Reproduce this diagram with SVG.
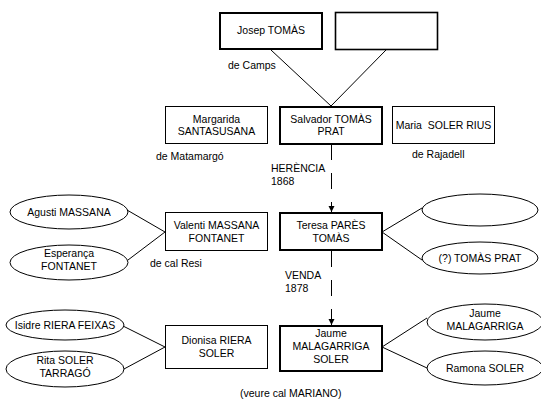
<svg xmlns="http://www.w3.org/2000/svg" width="541" height="400" viewBox="0 0 541 400">
<style>
text{font-family:"Liberation Sans",Arial,sans-serif;font-size:10.5px;fill:#000}
.c{text-anchor:middle}
.thin{fill:#fff;stroke:#000;stroke-width:1}
.thick{fill:#fff;stroke:#000;stroke-width:2}
.mid{fill:#fff;stroke:#000;stroke-width:1.6}
.ell{fill:#fff;stroke:#000;stroke-width:1}
.ln{stroke:#000;stroke-width:1;fill:none}
.dash{stroke:#000;stroke-width:1;fill:none;stroke-dasharray:16 13}
</style>
<defs>
<marker id="arr" markerUnits="userSpaceOnUse" markerWidth="7" markerHeight="7" refX="6" refY="3.5" orient="auto">
<path d="M0,0.5 L6,3.5 L0,6.5 z" fill="#000"/>
</marker>
</defs>
<rect width="541" height="400" fill="#fff"/>
<g id="connectors">
<line class="ln" x1="271" y1="50" x2="331" y2="106"/>
<line class="ln" x1="386" y1="50" x2="331" y2="106"/>
<line class="dash" x1="331.5" y1="144" x2="331.5" y2="212" marker-end="url(#arr)"/>
<line class="dash" x1="331.5" y1="251" x2="331.5" y2="325" marker-end="url(#arr)"/>
<line class="ln" x1="127" y1="210" x2="165" y2="232"/>
<line class="ln" x1="128" y1="260" x2="165" y2="232"/>
<line class="ln" x1="382" y1="232" x2="422" y2="208"/>
<line class="ln" x1="382" y1="232" x2="422" y2="260"/>
<line class="ln" x1="123" y1="326" x2="165" y2="347"/>
<line class="ln" x1="124" y1="369" x2="165" y2="347"/>
<line class="ln" x1="382" y1="347" x2="427" y2="318"/>
<line class="ln" x1="382" y1="347" x2="427" y2="368"/>
</g>
<g id="josep"><rect class="thick" x="220" y="13" width="102" height="36"/><text class="c" x="271" y="34">Josep TOMÀS</text></g>
<g id="empty-top"><rect class="mid" x="335.5" y="12.5" width="102" height="37"/></g>
<g id="salvador"><rect class="thick" x="280" y="107" width="102" height="37"/><text class="c" x="331" y="123">Salvador TOMÀS</text><text class="c" x="331" y="135">PRAT</text></g>
<g id="margarida"><rect class="thin" x="165.5" y="106.5" width="102" height="37"/><text class="c" x="216.5" y="123">Margarida</text><text class="c" x="216.5" y="135">SANTASUSANA</text></g>
<g id="maria"><rect class="thin" x="392.5" y="106.5" width="102" height="37"/><text class="c" x="443.5" y="129" xml:space="preserve">Maria  SOLER RIUS</text></g>
<g id="valenti"><rect class="thin" x="165.5" y="212.5" width="102" height="38"/><text class="c" x="216.5" y="229">Valenti MASSANA</text><text class="c" x="216.5" y="242">FONTANET</text></g>
<g id="teresa"><rect class="thick" x="280" y="213" width="102" height="37"/><text class="c" x="331" y="229">Teresa PARÈS</text><text class="c" x="331" y="242">TOMÀS</text></g>
<g id="dionisa"><rect class="thin" x="165.5" y="325.5" width="102" height="43"/><text class="c" x="216.5" y="344">Dionisa RIERA</text><text class="c" x="216.5" y="357">SOLER</text></g>
<g id="jaume-box"><rect class="thick" x="280" y="326" width="102" height="45"/><text class="c" x="331" y="337">Jaume</text><text class="c" x="331" y="350">MALAGARRIGA</text><text class="c" x="331" y="363">SOLER</text></g>
<g id="agusti"><ellipse class="ell" cx="69" cy="212" rx="59" ry="17"/><text class="c" x="69" y="216">Agusti MASSANA</text></g>
<g id="esperanca"><ellipse class="ell" cx="69" cy="262.5" rx="59" ry="17.5"/><text class="c" x="69" y="257">Esperança</text><text class="c" x="69" y="270">FONTANET</text></g>
<g id="empty-ellipse"><ellipse class="ell" cx="480" cy="210" rx="58" ry="16"/></g>
<g id="tomas-prat"><ellipse class="ell" cx="480" cy="258" rx="58" ry="16"/><text class="c" x="480" y="262">(?) TOMÀS PRAT</text></g>
<g id="isidre"><ellipse class="ell" cx="65" cy="325" rx="59" ry="15"/><text class="c" x="65" y="329">Isidre RIERA FEIXAS</text></g>
<g id="rita"><ellipse class="ell" cx="65" cy="369" rx="59" ry="18"/><text class="c" x="65" y="364">Rita SOLER</text><text class="c" x="65" y="377">TARRAGÓ</text></g>
<g id="jaume-ell"><ellipse class="ell" cx="485" cy="322" rx="58" ry="18"/><text class="c" x="485" y="317">Jaume</text><text class="c" x="485" y="330">MALAGARRIGA</text></g>
<g id="ramona"><ellipse class="ell" cx="485" cy="368" rx="58" ry="17"/><text class="c" x="485" y="372">Ramona SOLER</text></g>
<g id="labels">
<text x="228" y="69">de Camps</text>
<text x="156" y="160">de Matamargó</text>
<text x="412" y="158">de Rajadell</text>
<text x="271" y="172">HERÈNCIA</text>
<text x="271" y="185">1868</text>
<text x="150" y="267">de cal Resi</text>
<text x="285" y="279">VENDA</text>
<text x="285" y="292">1878</text>
<text x="240" y="397">(veure cal MARIANO)</text>
</g>
</svg>
